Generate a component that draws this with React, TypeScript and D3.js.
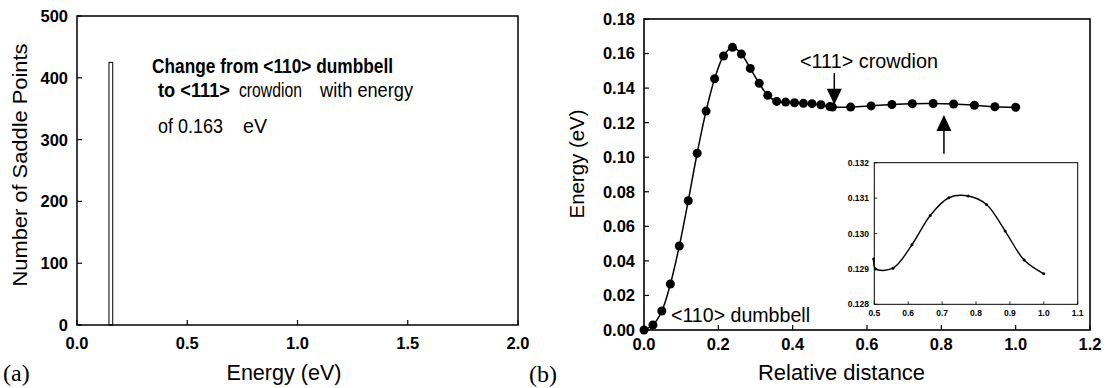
import React from "react";
import * as d3 from "d3";

// ---------- Data ----------
// Panel (a): histogram of saddle point energies
const binStart = [0.145];
const binEnd = [0.162];
const binCount = [425];
const aXTicks = [0, 0.5, 1.0, 1.5, 2.0];
const aYTicks = [0, 100, 200, 300, 400, 500];

// Panel (b): energy along path
const relDist = [0, 0.024, 0.048, 0.071, 0.095, 0.119, 0.143, 0.167, 0.190, 0.214, 0.238, 0.262, 0.286, 0.310, 0.333, 0.357, 0.381, 0.405, 0.429, 0.452, 0.476, 0.5, 0.507, 0.556, 0.611, 0.667, 0.722, 0.778, 0.833, 0.889, 0.944, 1.0];
const energy = [0, 0.0029, 0.011, 0.0266, 0.0486, 0.0748, 0.1023, 0.1267, 0.1454, 0.1586, 0.1636, 0.1597, 0.1514, 0.1428, 0.1358, 0.1323, 0.1319, 0.1315, 0.1312, 0.1310, 0.1304, 0.1293, 0.1290, 0.1290, 0.1297, 0.1305, 0.1310, 0.1311, 0.1308, 0.1301, 0.1292, 0.1289];
const bXTicks = [0, 0.2, 0.4, 0.6, 0.8, 1.0, 1.2];
const bYTicks = [0, 0.02, 0.04, 0.06, 0.08, 0.10, 0.12, 0.14, 0.16, 0.18];

// Inset
const insetDist = [0.498, 0.504, 0.555, 0.611, 0.665, 0.720, 0.777, 0.831, 0.886, 0.942, 1.0];
const insetEnergy = [0.12928, 0.12900, 0.12902, 0.12968, 0.13051, 0.13101, 0.13106, 0.13082, 0.13007, 0.12925, 0.12886];
const inXTicks = [0.5, 0.6, 0.7, 0.8, 0.9, 1.0, 1.1];
const inYTicks = [0.128, 0.129, 0.130, 0.131, 0.132];

const FONT = "'Liberation Sans', Arial, Helvetica, sans-serif";

export default function App() {
  // ---- Panel (a) scales
  const ax = d3.scaleLinear().domain([0, 2]).range([77, 518]);
  const ay = d3.scaleLinear().domain([0, 500]).range([325, 16]);

  // ---- Panel (b) scales
  const bx = d3.scaleLinear().domain([0, 1.2]).range([644, 1090]);
  const by = d3.scaleLinear().domain([0, 0.18]).range([330, 19]);

  // ---- Inset scales
  const ix = d3.scaleLinear().domain([0.5, 1.1]).range([874.3, 1077.7]);
  const iy = d3.scaleLinear().domain([0.128, 0.132]).range([304.3, 162.7]);

  const mainPts: [number, number][] = relDist.map((d, i) => [bx(d), by(energy[i])]);
  const mainLine = d3.line().curve(d3.curveCatmullRom.alpha(0.5))(mainPts) || "";
  const inPts: [number, number][] = insetDist.map((d, i) => [ix(d), iy(insetEnergy[i])]);
  const inLine = d3.line().curve(d3.curveCatmullRom.alpha(0.5))(inPts) || "";

  const fmt1 = d3.format(".1f");
  const fmt2 = d3.format(".2f");
  const fmt3 = d3.format(".3f");

  const tickLen = 5;

  // arrows (in data coordinates of panel b)
  const downX = bx(0.512), downTop = by(0.1487), downTip = by(0.1304);
  const upX = bx(0.807), upTip = by(0.1245), upBottom = by(0.102);
  const headH = 16, headW = 7.5;

  return (
    <div style={{ position: "absolute", left: 0, top: 0 }}>
      <svg width={1108} height={388} style={{ display: "block", background: "#fff" }} fontFamily={FONT}>
        {/* ================= Panel (a) ================= */}
        {binCount.map((c, i) => (
          <rect key={i} x={ax(binStart[i])} y={ay(c)} width={ax(binEnd[i]) - ax(binStart[i])} height={ay(0) - ay(c)}
            fill="#fff" stroke="#000" strokeWidth={1} />
        ))}
        <rect x={77} y={16} width={518 - 77} height={325 - 16} fill="none" stroke="#000" strokeWidth={1.5} />
        {aYTicks.map((t) => (
          <g key={"ay" + t}>
            <line x1={77} x2={77 + tickLen} y1={ay(t)} y2={ay(t)} stroke="#000" strokeWidth={1.2} />
            <text x={68} y={ay(t)} dy="0.36em" textAnchor="end" fontSize={16.5} fontWeight="bold">{t}</text>
          </g>
        ))}
        {aXTicks.map((t) => (
          <g key={"ax" + t}>
            <line x1={ax(t)} x2={ax(t)} y1={325} y2={325 - tickLen} stroke="#000" strokeWidth={1.2} />
            <text x={ax(t)} y={349} textAnchor="middle" fontSize={16.5} fontWeight="bold">{fmt1(t)}</text>
          </g>
        ))}
        <text x={284} y={380} textAnchor="middle" fontSize={22} textLength={115} lengthAdjust="spacingAndGlyphs">Energy (eV)</text>
        <text transform="translate(27,165) rotate(-90)" textAnchor="middle" fontSize={21} textLength={243} lengthAdjust="spacingAndGlyphs">Number of Saddle Points</text>
        <text x={3} y={381} fontFamily="'Liberation Serif', 'Times New Roman', serif" fontSize={24}>(a)</text>

        {/* annotation */}
        <text x={152} y={73} fontSize={20.5} fontWeight="bold" textLength={241} lengthAdjust="spacingAndGlyphs">Change from &lt;110&gt; dumbbell</text>
        <text x={158} y={97} fontSize={20} fontWeight="bold" textLength={72} lengthAdjust="spacingAndGlyphs">to &lt;111&gt;</text>
        <text x={239} y={97} fontSize={20} textLength={63} lengthAdjust="spacingAndGlyphs">crowdion</text>
        <text x={320} y={97} fontSize={20} textLength={93} lengthAdjust="spacingAndGlyphs">with energy</text>
        <text x={158} y={133} fontSize={20} textLength={65} lengthAdjust="spacingAndGlyphs">of 0.163</text>
        <text x={243} y={133} fontSize={20} textLength={24} lengthAdjust="spacingAndGlyphs">eV</text>

        {/* ================= Panel (b) ================= */}
        <rect x={644} y={19} width={1090 - 644} height={330 - 19} fill="none" stroke="#000" strokeWidth={1.6} />
        {bYTicks.map((t) => (
          <g key={"by" + t}>
            <line x1={644} x2={644 + tickLen} y1={by(t)} y2={by(t)} stroke="#000" strokeWidth={1.2} />
            <text x={635} y={by(t)} dy="0.36em" textAnchor="end" fontSize={16.5} fontWeight="bold">{fmt2(t)}</text>
          </g>
        ))}
        {bXTicks.map((t) => (
          <g key={"bx" + t}>
            <line x1={bx(t)} x2={bx(t)} y1={330} y2={330 - tickLen} stroke="#000" strokeWidth={1.2} />
            <text x={bx(t)} y={350} textAnchor="middle" fontSize={16.5} fontWeight="bold">{fmt1(t)}</text>
          </g>
        ))}
        <text x={841.5} y={380} textAnchor="middle" fontSize={22} textLength={167} lengthAdjust="spacingAndGlyphs">Relative distance</text>
        <text transform="translate(584,164) rotate(-90)" textAnchor="middle" fontSize={21} textLength={109} lengthAdjust="spacingAndGlyphs">Energy (eV)</text>
        <text x={529} y={382} fontFamily="'Liberation Serif', 'Times New Roman', serif" fontSize={24}>(b)</text>

        <path d={mainLine} fill="none" stroke="#000" strokeWidth={1.5} />
        {mainPts.map((p, i) => (
          <circle key={"m" + i} cx={p[0]} cy={p[1]} r={4.5} fill="#000" />
        ))}

        <text x={800} y={68} fontSize={20.5} textLength={138} lengthAdjust="spacingAndGlyphs">&lt;111&gt; crowdion</text>
        <text x={671} y={322} fontSize={20.5} textLength={139} lengthAdjust="spacingAndGlyphs">&lt;110&gt; dumbbell</text>

        <line x1={downX} x2={downX} y1={downTop} y2={downTip - headH + 1} stroke="#000" strokeWidth={1.5} />
        <polygon points={`${downX - headW},${downTip - headH} ${downX + headW},${downTip - headH} ${downX},${downTip}`} fill="#000" />
        <line x1={upX} x2={upX} y1={upBottom} y2={upTip + headH - 1} stroke="#000" strokeWidth={1.5} />
        <polygon points={`${upX - headW},${upTip + headH} ${upX + headW},${upTip + headH} ${upX},${upTip}`} fill="#000" />

        {/* ================= Inset ================= */}
        <rect x={874.3} y={162.7} width={1077.7 - 874.3} height={304.3 - 162.7} fill="#fff" stroke="#000" strokeWidth={1} />
        {inYTicks.map((t) => (
          <g key={"iy" + t}>
            <line x1={874.3} x2={874.3 + 3} y1={iy(t)} y2={iy(t)} stroke="#000" strokeWidth={0.8} />
            <text x={869} y={iy(t)} dy="0.36em" textAnchor="end" fontSize={8.5} fontWeight="bold">{fmt3(t)}</text>
          </g>
        ))}
        {inXTicks.map((t) => (
          <g key={"ix" + t}>
            <line x1={ix(t)} x2={ix(t)} y1={304.3} y2={304.3 - 3} stroke="#000" strokeWidth={0.8} />
            <text x={ix(t)} y={316} textAnchor="middle" fontSize={8.5} fontWeight="bold">{fmt1(t)}</text>
          </g>
        ))}
        <path d={inLine} fill="none" stroke="#000" strokeWidth={1.4} />
        {inPts.map((p, i) => (
          <circle key={"i" + i} cx={p[0]} cy={p[1]} r={1.5} fill="#000" />
        ))}
      </svg>
    </div>
  );
}
